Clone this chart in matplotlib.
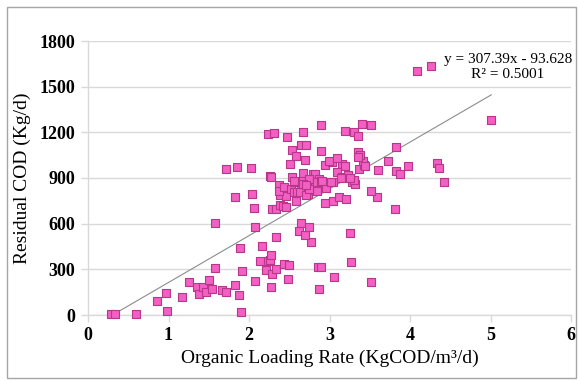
import matplotlib
matplotlib.use("Agg")
import matplotlib.pyplot as plt
from matplotlib.patches import Rectangle
import numpy as np

# Organic loading rate (KgCOD/m3/d) and residual COD (Kg/d)
olr = [0.28, 0.34, 0.60, 0.98, 0.86, 0.97, 1.17, 1.25, 1.35, 1.38, 1.43, 1.46, 1.50, 1.54,
       1.58, 1.66, 1.71, 1.83, 1.87, 1.91, 1.90, 1.89, 2.08, 2.16, 2.14, 2.21, 2.24, 2.26,
       2.27, 2.27, 2.29, 2.33, 2.44, 2.50, 2.48, 2.77, 2.86, 2.90, 2.87, 3.27, 3.06, 3.52,
       1.58, 1.82, 2.04, 2.06, 2.07, 2.29, 2.33, 2.33, 2.38, 2.42, 2.46, 2.38, 2.46, 2.59,
       2.65, 2.62, 2.69, 2.75, 3.25, 2.95, 3.04, 3.12, 3.21, 3.59, 3.81,
       1.72, 1.85, 2.03, 2.26, 2.27, 2.37, 2.37, 2.44, 2.52, 2.56, 2.60, 2.65, 2.70, 2.73,
       2.75, 2.76, 2.83, 2.84, 2.56, 2.67, 2.51, 2.54, 2.56, 2.69, 2.67, 2.70, 2.79, 2.82,
       2.82, 2.75, 2.87, 2.84, 2.94, 3.03, 3.16, 3.19, 3.09, 3.04, 3.15, 3.23, 3.28, 3.32,
       3.31, 3.37, 3.43, 3.42, 3.60, 3.73, 3.83, 3.88, 3.98, 4.33, 4.36, 4.42, 2.96, 3.52,
       2.90, 2.99, 3.09, 3.14, 3.26, 2.91, 3.02, 2.67, 2.63, 2.71, 2.74, 2.71,
       2.24, 2.31, 2.47, 2.67, 2.54, 2.64, 2.71, 2.58, 2.89, 2.89, 3.19, 3.30, 3.35, 3.40,
       3.51, 3.82, 3.36, 3.38, 3.35, 3.44, 4.09, 4.26, 5.01]
cod = [8, 5, 9, 28, 94, 144, 118, 217, 186, 140, 182, 153, 232, 171,
       311, 162, 153, 199, 131, 291, 22, 440, 225, 455, 356, 295, 356, 361,
       392, 186, 269, 304, 333, 330, 236, 481, 318, 314, 171, 350, 252, 214,
       606, 773, 797, 702, 580, 698, 698, 510, 724, 718, 707, 790, 779, 746,
       606, 549, 523, 578, 538, 735, 748, 777, 764, 775, 698,
       956, 972, 965, 910, 906, 851, 816, 840, 827, 806, 806, 823, 849, 793,
       823, 869, 856, 814, 875, 886, 993, 908, 882, 1018, 930, 845, 924, 928,
       873, 893, 891, 875, 987, 1006, 989, 980, 941, 871, 906, 921, 875, 860,
       886, 958, 983, 1009, 950, 1011, 943, 924, 976, 1000, 965, 873, 834, 812,
       882, 1009, 1033, 901, 897, 880, 873, 860, 809, 790, 829, 853,
       1186, 1197, 1171, 1203, 1083, 1118, 1116, 1046, 1245, 1078, 1208, 1201, 1177, 1258,
       1247, 1105, 1070, 1050, 1035, 980, 1600, 1639, 1278]

# Linear trendline coefficients shown on the chart
slope = 307.39
intercept = -93.628
eq_text = "y = 307.39x - 93.628"
r2_text = "R\u00b2 = 0.5001"

x_ticks = [0, 1, 2, 3, 4, 5, 6]
y_ticks = [0, 300, 600, 900, 1200, 1500, 1800]

plt.rcParams['font.family'] = ['Liberation Serif', 'DejaVu Serif']

fig = plt.figure(figsize=(5.79, 3.81), dpi=100)
ax = fig.add_axes([88/579, 1-315/381, (571-88)/579, (315-41)/381])

grid_c = '#d9d9d9'
ax.set_xlim(0, 6)
ax.set_ylim(0, 1800)
ax.set_xticks(x_ticks)
ax.set_yticks(y_ticks)
ax.set_xticklabels([str(v) for v in x_ticks], fontsize=13, fontweight='bold')
ax.set_yticklabels([str(v) for v in y_ticks], fontsize=13, fontweight='bold')
ax.yaxis.grid(True, color=grid_c, linewidth=1.0)
ax.set_axisbelow(True)
for s in ['top', 'right']:
    ax.spines[s].set_visible(False)
for s in ['left', 'bottom']:
    ax.spines[s].set_color(grid_c)
    ax.spines[s].set_linewidth(1.0)
ax.tick_params(axis='both', direction='out', length=5, color=grid_c, width=1.0, pad=4)

xs = np.array(olr)
xl = np.array([xs.min(), xs.max()])
ax.plot(xl, slope * xl + intercept, color='#8c8c8c', linewidth=0.8, zorder=2)

ax.scatter(olr, cod, marker='s', s=30, facecolor='#f35fc3', edgecolor='#b8378a',
           linewidth=0.8, zorder=3, clip_on=False)

ax.set_xlabel("Organic Loading Rate (KgCOD/m\u00b3/d)", fontsize=14, labelpad=4)
ax.set_ylabel("Residual COD (Kg/d)", fontsize=14, labelpad=6)

fig.text(508/579, 1-59/381, eq_text, fontsize=11, ha='center', va='center')
fig.text(508/579, 1-75/381, r2_text, fontsize=11, ha='center', va='center')

fig.patches.append(Rectangle((7/579, 1-378/381), (576-7)/579, (378-7)/381,
                             transform=fig.transFigure, fill=False,
                             edgecolor='#a6a6a6', linewidth=1.0))

fig.savefig("out.png", dpi=100)
